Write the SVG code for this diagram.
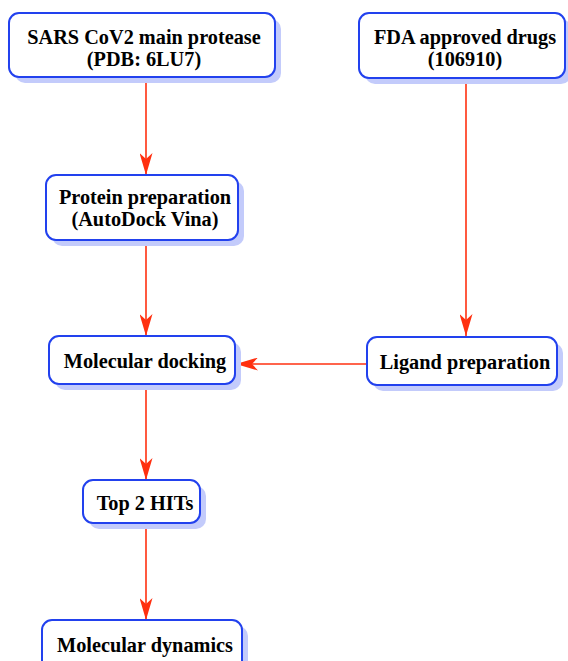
<svg xmlns="http://www.w3.org/2000/svg" width="568" height="661" viewBox="0 0 568 661">
<style>
.shadow{fill:#c3cbfb;stroke:none}
.box{fill:#ffffff;stroke:#2241ee;stroke-width:2}
.lbl{font-family:"Liberation Serif","Times New Roman",serif;font-weight:bold;font-size:20.3px;fill:#000;text-anchor:middle}
.edge{stroke:#ff3010;stroke-width:1.6;fill:none;marker-end:url(#ah)}
</style>
<defs>
<marker id="ah" viewBox="0 0 22 13" refX="22" refY="6.5" markerWidth="22" markerHeight="13" markerUnits="userSpaceOnUse" orient="auto">
<path d="M0,0 L22,6.5 L0,13 L6,6.5 z" fill="#ff3010"/>
</marker>
</defs>
<rect width="568" height="661" fill="#ffffff"/>
<g id="connectors">
<line class="edge" x1="146" y1="78" x2="146" y2="175"/>
<line class="edge" x1="466" y1="79" x2="466" y2="336"/>
<line class="edge" x1="146" y1="241" x2="146" y2="336"/>
<line class="edge" x1="367" y1="364" x2="236" y2="364"/>
<line class="edge" x1="146" y1="384" x2="146" y2="480"/>
<line class="edge" x1="146" y1="524" x2="146" y2="620"/>
</g>
<g id="n1">
<rect class="shadow" x="15" y="19" width="266" height="64" rx="10"/>
<rect class="box" x="9" y="13" width="266" height="64" rx="10"/>
<text class="lbl" x="144" y="44">SARS CoV2 main protease</text>
<text class="lbl" x="144" y="66">(PDB: 6LU7)</text>
</g>
<g id="n2">
<rect class="shadow" x="365" y="19" width="206" height="65" rx="10"/>
<rect class="box" x="359" y="13" width="206" height="65" rx="10"/>
<text class="lbl" x="465" y="44">FDA approved drugs</text>
<text class="lbl" x="465" y="66">(106910)</text>
</g>
<g id="n3">
<rect class="shadow" x="52" y="181" width="192" height="65" rx="10"/>
<rect class="box" x="46" y="175" width="192" height="65" rx="10"/>
<text class="lbl" x="145" y="204">Protein preparation</text>
<text class="lbl" x="145" y="226">(AutoDock Vina)</text>
</g>
<g id="n4">
<rect class="shadow" x="55" y="342" width="186" height="48" rx="10"/>
<rect class="box" x="49" y="336" width="186" height="48" rx="10"/>
<text class="lbl" x="145" y="368">Molecular docking</text>
</g>
<g id="n5">
<rect class="shadow" x="373" y="343" width="190" height="48" rx="10"/>
<rect class="box" x="367" y="337" width="190" height="48" rx="10"/>
<text class="lbl" x="465" y="369">Ligand preparation</text>
</g>
<g id="n6">
<rect class="shadow" x="89" y="486" width="117" height="43" rx="10"/>
<rect class="box" x="83" y="480" width="117" height="43" rx="10"/>
<text class="lbl" x="145" y="510">Top 2 HITs</text>
</g>
<g id="n7">
<rect class="shadow" x="48" y="626" width="200" height="60" rx="10"/>
<rect class="box" x="42" y="620" width="200" height="60" rx="10"/>
<text class="lbl" x="145" y="652">Molecular dynamics</text>
</g>
</svg>
